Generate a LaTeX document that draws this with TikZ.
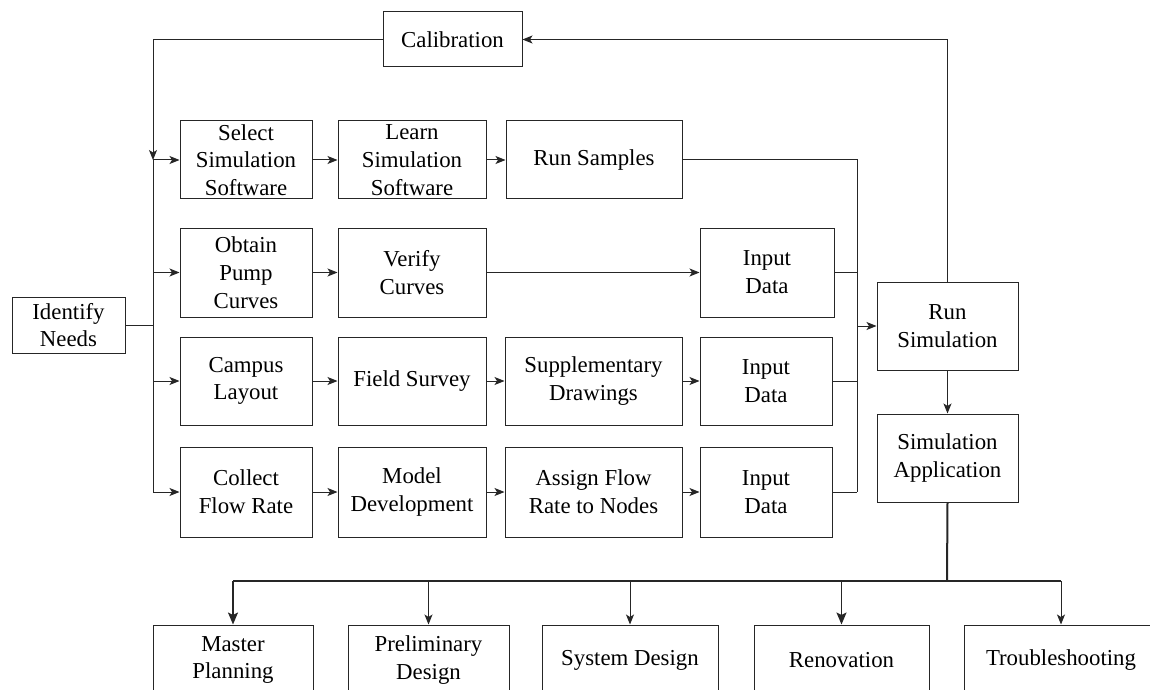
\documentclass[tikz,border=0pt]{standalone}
\usepackage{fontspec}
\setmainfont{Liberation Serif}
\usetikzlibrary{arrows.meta}
\tikzset{
  box/.style={draw=black!85, line width=1bp, inner sep=0pt, align=center,
    font=\rmfamily\fontsize{22.9}{27.9}\selectfont},
  conn/.style={line width=1bp, draw=black!85},
  arr/.style={conn, -{Stealth[length=10bp,width=8bp,inset=2.5bp]}},
  bigarr/.style={line width=1.8bp, draw=black!85, -{Stealth[length=12bp,width=10bp,inset=2.5bp]}},
}
\newcommand\bx[6]{\node[box, minimum width={(#4-#2)*1bp}, minimum height={(#5-#3)*1bp}] (#1) at ({(#2+#4)/2},{(#3+#5)/2}) {#6};}
\begin{document}
\begin{tikzpicture}[x=1bp,y=-1bp]
\useasboundingbox (0,0) rectangle (1150,690);
\clip (0,0) rectangle (1150,690);
% boxes
\bx{cal}{383}{12}{522}{67}{Calibration}
\bx{idn}{12}{297}{125}{353}{Identify\\Needs}
% row 1
\bx{sel}{180}{121}{312}{199}{Select\\Simulation\\Software}
\bx{lrn}{338}{121}{486}{199}{Learn\\Simulation\\Software}
\bx{rs}{506}{121}{682}{199}{Run Samples}
% row 2
\bx{opc}{180}{228}{312}{317}{Obtain\\Pump\\Curves}
\bx{vc}{338}{228}{486}{317}{Verify\\Curves}
\bx{in2}{700}{228}{834}{317}{Input\\Data}
% row 3
\bx{cl}{180}{337}{312}{425}{Campus\\Layout}
\bx{fs}{338}{337}{486}{425}{Field Survey}
\bx{sd}{505}{337}{682}{425}{Supplementary\\Drawings}
\bx{in3}{700}{337}{832}{425}{Input\\Data}
% row 4
\bx{cfr}{180}{447}{312}{537}{Collect\\Flow Rate}
\bx{md}{338}{447}{486}{537}{Model\\Development}
\bx{af}{505}{447}{682}{537}{Assign Flow\\Rate to Nodes}
\bx{in4}{700}{447}{832}{537}{Input\\Data}
% right
\bx{rsim}{877}{282}{1018}{370}{Run\\Simulation}
\bx{app}{877}{414}{1018}{502}{Simulation\\Application}
% bottom
\bx{mp}{153}{625}{313}{695}{Master\\Planning}
\bx{pd}{348}{625}{509}{695}{Preliminary\\Design}
\bx{sysd}{542}{625}{718}{695}{System Design}
\bx{ren}{754}{625}{929}{695}{Renovation}
\bx{ts}{964}{625}{1158}{695}{Troubleshooting}
% coordinates
\coordinate (lt) at (153,160);
\coordinate (lb) at (153,492);
\coordinate (rt) at (857,160);
\coordinate (rb) at (857,492);
\coordinate (bus) at (947,581);
% left bus
\draw[conn] (lt) -- (lb);
\draw[conn] (idn.east) -- (idn.east -| lt);
\draw[arr] (sel.west -| lt) -- (sel.west);
\draw[arr] (opc.west -| lt) -- (opc.west);
\draw[arr] (cl.west -| lt) -- (cl.west);
\draw[arr] (cfr.west -| lt) -- (cfr.west);
% rows
\draw[arr] (sel) -- (lrn);
\draw[arr] (lrn) -- (rs);
\draw[arr] (opc) -- (vc);
\draw[arr] (vc) -- (in2);
\draw[arr] (cl) -- (fs);
\draw[arr] (fs) -- (sd);
\draw[arr] (sd) -- (in3);
\draw[arr] (cfr) -- (md);
\draw[arr] (md) -- (af);
\draw[arr] (af) -- (in4);
% right bus
\draw[conn] (rs.east) -- (rt) -- (rb);
\draw[conn] (in2.east) -- (in2.east -| rt);
\draw[conn] (in3.east) -- (in3.east -| rt);
\draw[conn] (in4.east) -- (rb);
\draw[arr] (rsim.west -| rt) -- (rsim.west);
% calibration loop
\draw[arr] (rsim.north) |- (cal.east);
\draw[arr] (cal.west) -| (lt);
% run sim to app
\draw[arr] (rsim) -- (app);
% application bus
\draw[line width=2bp, draw=black!85] (app.south) -- (bus);
\draw[line width=1.5bp, draw=black!85] (mp.north |- bus) -- (ts.north |- bus);
\draw[bigarr] (mp.north |- bus) -- (mp.north);
\draw[arr] (pd.north |- bus) -- (pd.north);
\draw[arr] (sysd.north |- bus) -- (sysd.north);
\draw[bigarr] (ren.north |- bus) -- (ren.north);
\draw[arr] (ts.north |- bus) -- (ts.north);
\end{tikzpicture}
\end{document}
